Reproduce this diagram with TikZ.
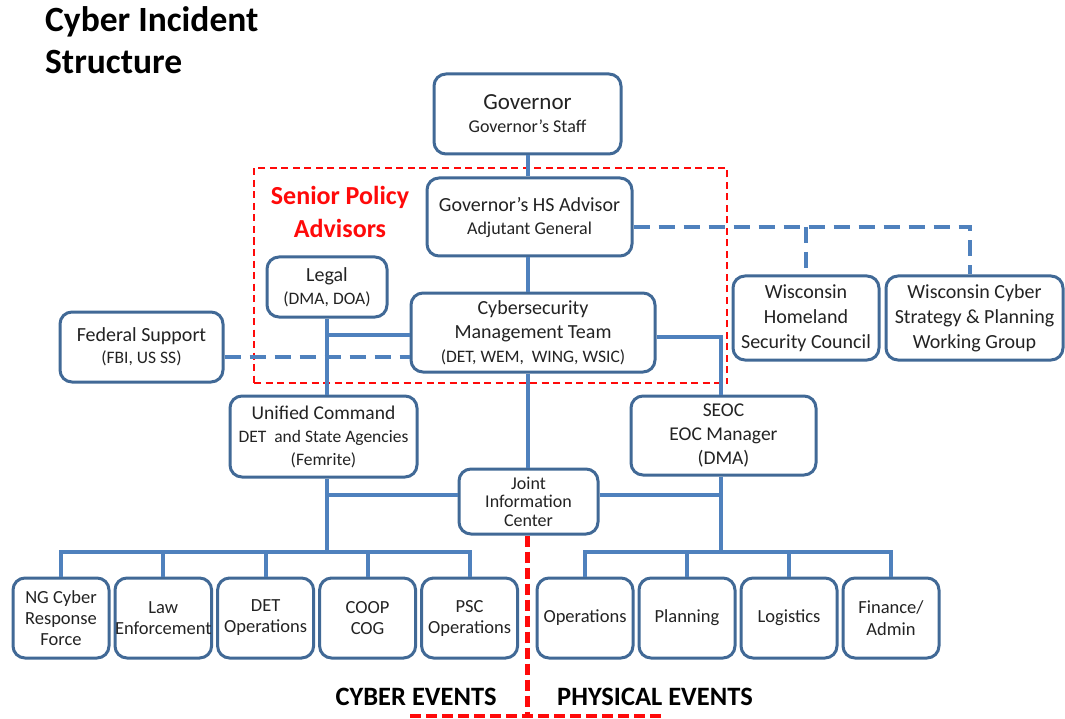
\documentclass[tikz,border=0pt]{standalone}
\usepackage{fontspec}
\setmainfont{Carlito}
\usetikzlibrary{positioning}
\definecolor{unitline}{RGB}{65,105,150}
\definecolor{linkblue}{RGB}{79,129,189}
\definecolor{inktext}{RGB}{35,35,35}
\definecolor{policyred}{RGB}{255,10,10}
\newcommand{\fsz}[2]{\fontsize{#1}{#2}\selectfont}

\begin{document}
\begin{tikzpicture}[x=1pt, y=-1pt]
  \tikzset{unit/.style={rectangle, draw=unitline, line width=3pt, rounded corners=12pt, fill=white, align=center, inner sep=0pt, text=inktext},
           cell/.style={unit, minimum width=96pt, minimum height=80pt, font=\fsz{18.5}{21}},
           link/.style={linkblue, line width=4pt},
           linkdash/.style={link, dash pattern=on 16pt off 9pt},
           splitline/.style={policyred, line width=4.5pt, dash pattern=on 11pt off 5pt},
           title/.style={font=\fsz{35.5}{42}\bfseries, inner sep=0pt, anchor=base west},
           eventlbl/.style={font=\fsz{26.5}{30}\bfseries, inner sep=0pt, text=black}}
  \useasboundingbox[fill=white] (0,0) rectangle (1065,719);

  % title
  \node[title] (ttl1) at (45,32) {Cyber Incident};
  \node[title] (ttl2) at (45,74) {Structure};

  % senior policy frame
  \node[draw=policyred, line width=2pt, dash pattern=on 7pt off 4.5pt, inner sep=0pt, minimum width=473pt, minimum height=215pt] (spframe) at (490.5,275.5) {};
  \node[font=\fsz{26}{33}\bfseries, text=policyred, align=center, inner sep=0pt] (spa) at (340,211.5) {Senior Policy\\Advisors};

  % upper boxes
  \node[unit, minimum width=187pt, minimum height=80pt, font=\fsz{18}{23}] (gov) at (527.5,114) {{\fsz{23}{23}Governor}\\Governor’s Staff};
  \node[unit, minimum width=205pt, minimum height=78pt, font=\fsz{18}{23}] (hsadv) at (529.5,217) {{\fsz{20}{23}Governor’s HS Advisor}\\Adjutant General};
  \node[unit, minimum width=120pt, minimum height=60pt, font=\fsz{17.5}{23}] (legal) at (327,287) {{\fsz{20}{23}Legal}\\(DMA, DOA)};
  \node[unit, minimum width=244pt, minimum height=79pt, font=\fsz{20}{24}] (cmt) at (533,332.5) {Cybersecurity\\Management Team\\{\fsz{17.5}{24}(DET, WEM,~~WING, WSIC)}};
  \node[unit, minimum width=163pt, minimum height=70pt, font=\fsz{17.5}{22}] (fed) at (141.5,347) {{\fsz{20}{22}Federal Support}\\(FBI, US SS)};
  \node[unit, minimum width=146pt, minimum height=84pt, font=\fsz{20}{25}] (whsc) at (806,318) {Wisconsin\\Homeland\\Security Council};
  \node[unit, minimum width=177pt, minimum height=84pt, font=\fsz{20}{25}, right=4pt of whsc] (wcs) {Wisconsin Cyber\\Strategy \& Planning\\Working Group};

  % command level
  \node[unit, minimum width=187pt, minimum height=81pt, font=\fsz{17.5}{23}] (uc) at (323.5,436.5) {{\fsz{19.5}{23}Unified Command}\\DET~ and State Agencies\\(Femrite)};
  \node[unit, minimum width=185pt, minimum height=79pt, font=\fsz{19.5}{24}] (seoc) at (723.5,435.5) {SEOC\\EOC Manager\\(DMA)};
  \node[unit, minimum width=139pt, minimum height=65pt, font=\fsz{18}{18.5}] (jic) at (528.5,501.5) {Joint\\Information\\Center};

  % cyber side
  \node[cell] (ngcrf) at (61,618) {NG Cyber\\Response\\Force};
  \node[cell, right=3pt of ngcrf] (lawenf) {Law\\Enforcement};
  \node[cell, right=3pt of lawenf] (detops) {DET\\Operations};
  \node[cell, right=3pt of detops] (coopcog) {COOP\\COG};
  \node[cell, right=3pt of coopcog] (pscops) {PSC\\Operations};

  % physical side
  \node[cell] (opsphys) at (585,618) {Operations};
  \node[cell, right=3pt of opsphys] (planning) {Planning};
  \node[cell, right=3pt of planning] (logist) {Logistics};
  \node[cell, right=3pt of logist, font=\fsz{18.5}{22}] (finadm) {Finance/\\Admin};

  \node[eventlbl] (cyberev) at (416,697) {CYBER EVENTS};
  \node[eventlbl] (physev) at (655,697) {PHYSICAL EVENTS};

  % spine
  \draw[link] (gov.south) -- (gov.south |- hsadv.north);
  \draw[link] (hsadv.south -| gov.south) -- (gov.south |- cmt.north);
  \draw[link] (cmt.south -| gov.south) -- (gov.south |- jic.north);

  % legal and seoc branches
  \coordinate (cmtL) at ([yshift=-2pt]cmt.west);
  \coordinate (cmtR) at ([yshift=-4.5pt]cmt.east);
  \draw[link] (legal.south) -- (legal.south |- uc.north);
  \draw[link] (cmtL) -- (cmtL -| legal.south);
  \draw[link] (cmtR) -| ([xshift=-3pt]seoc.north);

  % dashed links
  \coordinate (fedR) at ([yshift=-10pt]fed.east);
  \coordinate (hsR) at ([yshift=-10pt]hsadv.east);
  \draw[linkdash] (fedR) -- (fedR -| cmt.west);
  \draw[linkdash] (hsR) -| ([xshift=-4.5pt]wcs.north);
  \draw[linkdash] (hsR -| whsc.north) -- (whsc.north);

  % joint information center
  \coordinate (cyberbus) at (327,552);
  \coordinate (physbus) at (721,552);
  \coordinate (jicL) at ([yshift=7pt]jic.west);
  \coordinate (jicR) at ([yshift=7pt]jic.east);
  \draw[link] (uc.south -| cyberbus) -- (cyberbus);
  \draw[link] (seoc.south -| physbus) -- (physbus);
  \draw[link] (jicL) -- (jicL -| cyberbus);
  \draw[link] (jicR) -- (jicR -| physbus);

  % buses
  \draw[link] (ngcrf.north) -- (cyberbus -| ngcrf.north) -- (cyberbus -| pscops.north) -- (pscops.north);
  \foreach \b in {lawenf,detops,coopcog}
    \draw[link] (cyberbus -| \b.north) -- (\b.north);
  \draw[link] (opsphys.north) -- (physbus -| opsphys.north) -- (physbus -| finadm.north) -- (finadm.north);
  \foreach \b in {planning,logist}
    \draw[link] (physbus -| \b.north) -- (\b.north);

  % cyber / physical split
  \coordinate (splitbase) at (527.5,716);
  \coordinate (splitL) at (410,716);
  \coordinate (splitR) at (662,716);
  \draw[splitline] (jic.south -| gov.south) -- (splitbase);
  \draw[splitline] (splitL) -- (splitR);
\end{tikzpicture}
\end{document}
